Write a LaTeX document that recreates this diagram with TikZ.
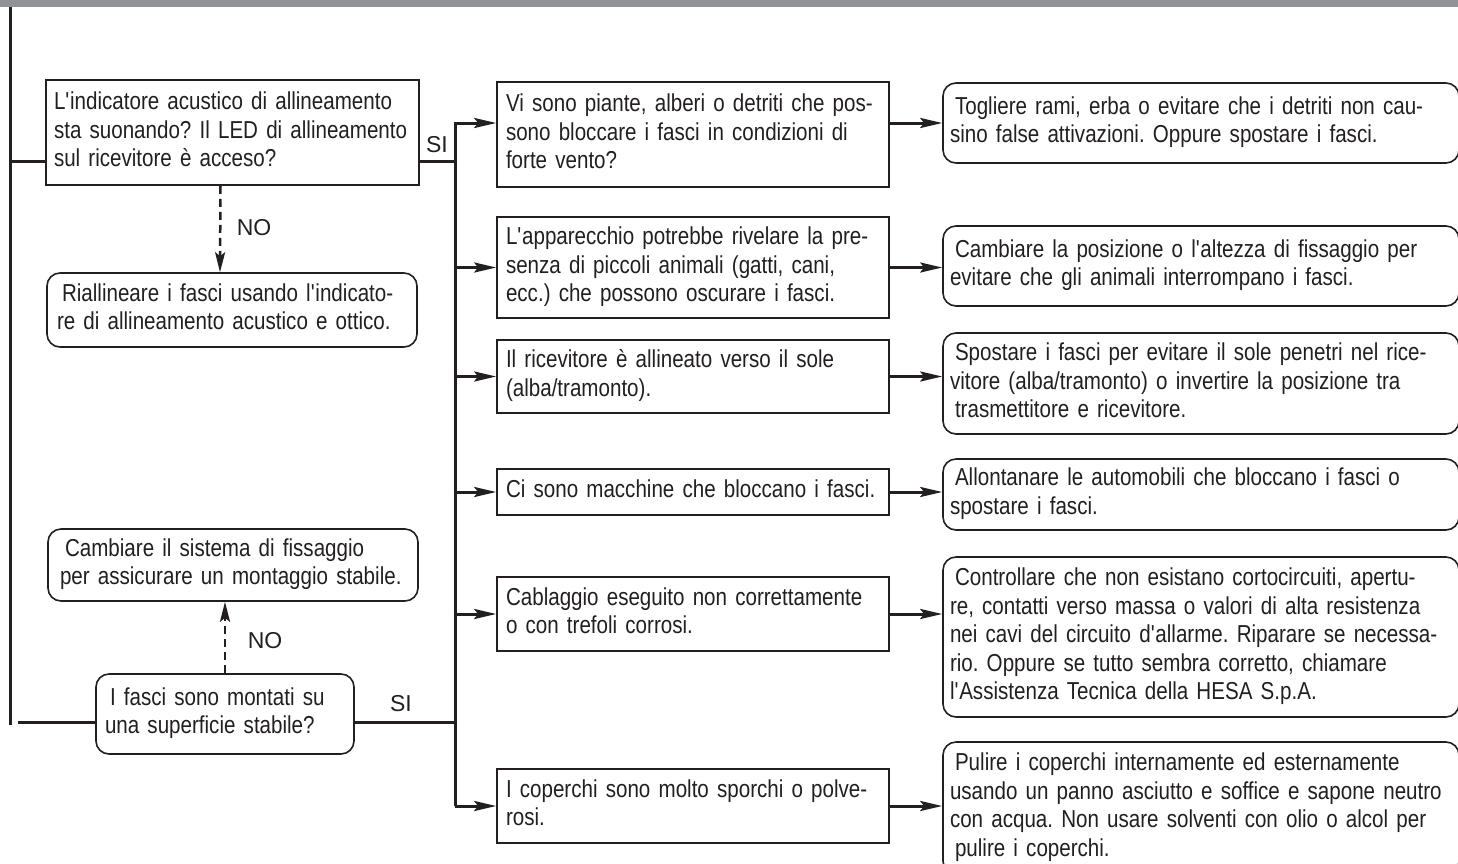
\documentclass[tikz,border=0pt]{standalone}
\usepackage{fontspec}
\setmainfont{Liberation Sans}[FakeStretch=0.84]
\newfontfamily\lblfont{Liberation Sans}
\usetikzlibrary{arrows.meta,calc}
\definecolor{ink}{RGB}{35,31,32}
\definecolor{barcol}{RGB}{145,146,150}
\newcommand{\ind}{\hspace*{5pt}}
\newcommand{\ap}{\textquotesingle}
\newcommand{\tb}[1]{\begin{tabular}{@{}l@{}}#1\end{tabular}}
\begin{document}
\begin{tikzpicture}[x=1pt,y=-1pt,
  txt/.style={font=\fontsize{24.5}{28.5}\selectfont\frenchspacing, text=ink, align=left, inner ysep=0pt},
  qbox/.style={txt, draw=ink, line width=1.6pt, rectangle},
  abox/.style={txt, draw=ink, line width=1.6pt, rounded corners=13pt},
  mbox/.style={qbox, text width=374pt, inner xsep=9pt, minimum height=#1},
  rbox/.style={abox, text width=502pt, inner xsep=7pt, minimum height=#1},
  conn/.style={draw=ink, line width=3pt},
  arr/.style={conn, -{Stealth[length=22pt,width=10pt,inset=4pt]}},
  darr/.style={draw=ink, line width=2.5pt, dash pattern=on 8pt off 5pt, -{Stealth[length=20pt,width=10pt,inset=4pt]}},
  lbl/.style={font=\lblfont\fontsize{23}{26}\selectfont, text=ink, inner sep=0pt},
]
\useasboundingbox (0,0) rectangle (1458,863);
\clip (0,0) rectangle (1458,863);
\fill[barcol] (0,0) rectangle (1458,7);

% left column
\node[qbox, text width=357pt, inner xsep=8pt, minimum height=105pt] (A) at (232.5,132.5)
  {\tb{L\ap indicatore acustico di allineamento\\sta suonando? Il LED di allineamento\\sul ricevitore è acceso?}};
\node[abox, text width=350pt, inner xsep=10pt, minimum height=74pt] (B) at (232,310)
  {\tb{\ind Riallineare i fasci usando l\ap indicato-\\re di allineamento acustico e ottico.}};
\node[abox, text width=346pt, inner xsep=12pt, minimum height=72pt] (C) at (233,565)
  {\tb{\ind Cambiare il sistema di fissaggio\\per assicurare un montaggio stabile.}};
\node[abox, text width=240pt, inner xsep=9pt, minimum height=80pt] (D) at (225,714)
  {\tb{\ind I fasci sono montati su\\una superficie stabile?}};

% middle column
\node[mbox=105pt] (M1) at (693,134.5)
  {\tb{Vi sono piante, alberi o detriti che pos-\\sono bloccare i fasci in condizioni di\\forte vento?}};
\node[mbox=101pt] (M2) at (693,267.5)
  {\tb{L\ap apparecchio potrebbe rivelare la pre-\\senza di piccoli animali (gatti, cani,\\ecc.) che possono oscurare i fasci.}};
\node[mbox=73pt] (M3) at (693,376.5)
  {\tb{Il ricevitore è allineato verso il sole\\(alba/tramonto).}};
\node[mbox=46pt] (M4) at (693,492)
  {\tb{Ci sono macchine che bloccano i fasci.}};
\node[mbox=74pt] (M5) at (693,614)
  {\tb{Cablaggio eseguito non correttamente\\o con trefoli corrosi.}};
\node[mbox=74pt] (M6) at (693,806)
  {\tb{I coperchi sono molto sporchi o polve-\\rosi.}};

% right column
\node[rbox=80pt] (R1) at (1201,123)
  {\tb{\ind Togliere rami, erba o evitare che i detriti non cau-\\sino false attivazioni. Oppure spostare i fasci.}};
\node[rbox=80pt] (R2) at (1201,266)
  {\tb{\ind Cambiare la posizione o l\ap altezza di fissaggio per\\evitare che gli animali interrompano i fasci.}};
\node[rbox=101pt] (R3) at (1201,383.5)
  {\tb{\ind Spostare i fasci per evitare il sole penetri nel rice-\\vitore (alba/tramonto) o invertire la posizione tra\\\ind trasmettitore e ricevitore.}};
\node[rbox=71pt] (R4) at (1201,494.5)
  {\tb{\ind Allontanare le automobili che bloccano i fasci o\\spostare i fasci.}};
\node[rbox=160pt] (R5) at (1201,637)
  {\tb{\ind Controllare che non esistano cortocircuiti, apertu-\\re, contatti verso massa o valori di alta resistenza\\nei cavi del circuito d\ap allarme. Riparare se necessa-\\rio. Oppure se tutto sembra corretto, chiamare\\l\ap Assistenza Tecnica della HESA S.p.A.}};
\node[rbox=132pt] (R6) at (1201,808)
  {\tb{\ind Pulire i coperchi internamente ed esternamente\\usando un panno asciutto e soffice e sapone neutro\\con acqua. Non usare solventi con olio o alcol per\\\ind pulire i coperchi.}};

% coordinates
\coordinate (Ltop) at (10,7);
\coordinate (Lbot) at (10,725);
\coordinate (LD) at (18,722);
\coordinate (jA) at (455,161);
\coordinate (jD) at (455,722);
\coordinate (Ttop) at (455,123);

% left rail
\draw[conn] (Ltop) -- (Lbot);
\draw[conn] (Ltop |- jA) -- (A.west |- jA);
\draw[conn] (LD) -- (D.west |- jD);

% SI branches
\draw[conn] (A.east |- jA) -- (jA);
\draw[conn] (D.east |- jD) -- (jD);
\node[lbl] (si1) at (437,145) {SI};
\node[lbl] (si2) at (401,704) {SI};

% trunk and arrows into middle column
\draw[arr] (Ttop |- M6.west) -- (Ttop) -- (M1.west |- Ttop);
\draw[arr] (Ttop |- M2.west) -- (M2.west);
\draw[arr] (Ttop |- M3.west) -- (M3.west);
\draw[arr] (Ttop |- M4.west) -- (M4.west);
\draw[arr] (Ttop |- M5.west) -- (M5.west);
\draw[arr] (Ttop |- M6.west) -- (M6.west);

% middle to right
\draw[arr] (M1.east |- Ttop) -- (R1.west |- Ttop);
\draw[arr] (M2.east) -- (M2.east -| R2.west);
\draw[arr] (M3.east) -- (M3.east -| R3.west);
\draw[arr] (M4.east) -- (M4.east -| R4.west);
\draw[arr] (M5.east) -- (M5.east -| R5.west);
\draw[arr] (M6.east) -- (M6.east -| R6.west);

% NO branches
\draw[darr] ([xshift=-12pt]A.south) -- ([xshift=-12pt]B.north);
\node[lbl] (no1) at (254,228) {NO};
\draw[darr] (D.north) -- (D.north |- C.south);
\node[lbl] (no2) at (265,641) {NO};
\end{tikzpicture}
\end{document}
